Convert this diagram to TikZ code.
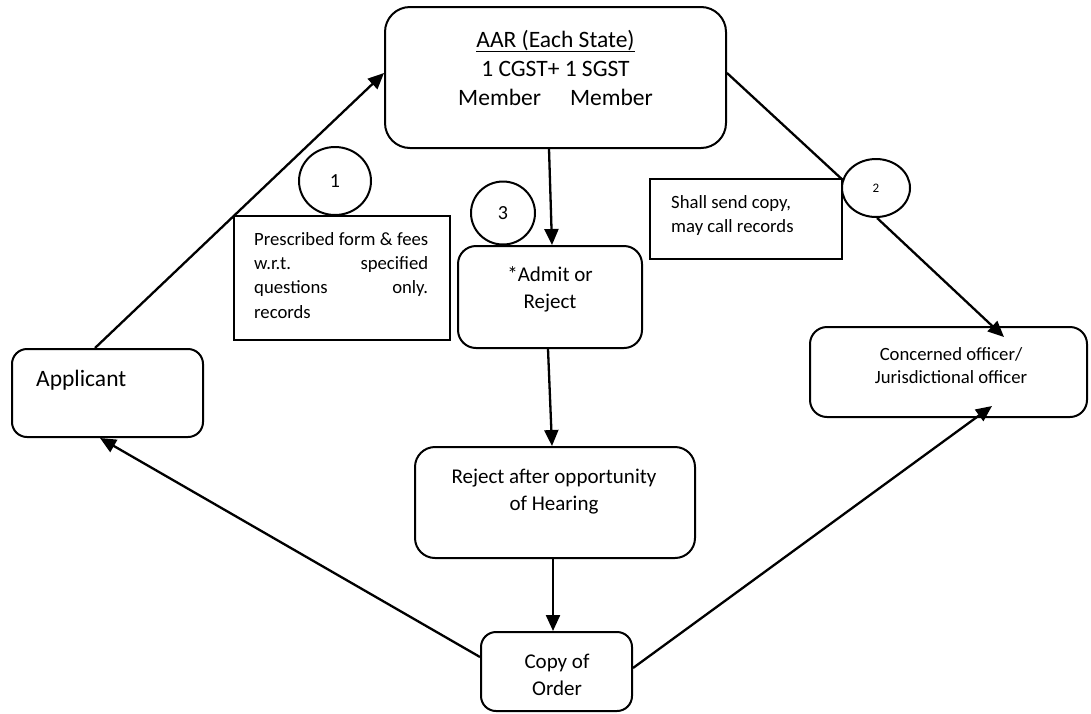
\documentclass[tikz,border=0pt]{standalone}
\usepackage{fontspec}
\setmainfont{Carlito}
\usetikzlibrary{arrows.meta,shapes.geometric}
\begin{document}
\begin{tikzpicture}[x=1pt,y=-1pt,
  box/.style={draw, line width=2pt, fill=white, inner sep=0pt},
  rbox/.style={box, rounded corners=#1},
  oval/.style={draw, line width=2pt, fill=white, ellipse, inner sep=0pt},
  conn/.style={line width=2.3pt, -{Triangle[length=16pt,width=14pt]}},
  plain/.style={line width=2.3pt},
  big/.style={font=\fontsize{23.5}{29}\selectfont, inner sep=0pt},
  mid/.style={font=\fontsize{21}{27}\selectfont, inner sep=0pt},
  sml/.style={font=\fontsize{18.7}{24}\selectfont, inner sep=0pt},
  lb/.style={anchor=base},
  lbw/.style={anchor=base west}]
\useasboundingbox (0,0) rectangle (1091,713);

% boxes
\node[rbox=25pt, minimum width=341pt, minimum height=141pt] (aar) at (555.5,77.5) {};
\node[rbox=18pt, minimum width=184pt, minimum height=102pt] (adm) at (550,297) {};
\node[rbox=20pt, minimum width=280pt, minimum height=111pt] (rej) at (555,502.5) {};
\node[rbox=15pt, minimum width=151pt, minimum height=79pt] (copy) at (556.5,671.5) {};
\node[rbox=15pt, minimum width=191pt, minimum height=88pt] (app) at (107.5,393) {};
\node[rbox=17pt, minimum width=277pt, minimum height=90pt] (con) at (948.5,372) {};
\node[box, minimum width=192pt, minimum height=80pt] (shall) at (746,219) {};
\node[box, minimum width=216pt, minimum height=124pt] (pres) at (342,278) {};

% circles
\node[oval, minimum width=72pt, minimum height=68pt, font=\fontsize{20}{24}\selectfont] (c1) at (335,181) {1};
\node[oval, minimum width=64pt, minimum height=63pt, font=\fontsize{20}{24}\selectfont] (c3) at (503,213) {3};
\node[oval, minimum width=68pt, minimum height=58pt, font=\fontsize{13}{16}\selectfont] (c2) at (876,188) {2};

% texts
\node[big, lb] (aart1) at (555.5,47) {\underline{AAR (Each State)}};
\node[big, lb] (aart2) at (555.5,76) {1 CGST+ 1 SGST};
\node[big, lb] (aart3) at (555.5,105) {Member\hspace{29pt}Member};

\node[mid, lb] (admt1) at (550,281) {*Admit or};
\node[mid, lb] (admt2) at (550,308) {Reject};

\node[mid, lb] (rejt1) at (554,483) {Reject after opportunity};
\node[mid, lb] (rejt2) at (554,510) {of Hearing};

\node[mid, lb] (copyt1) at (557,668) {Copy of};
\node[mid, lb] (copyt2) at (557,695) {Order};

\node[big, lbw] (appt) at (36,386) {Applicant};

\node[sml, lb] (cont1) at (951,360) {Concerned officer/};
\node[sml, lb] (cont2) at (951,383) {Jurisdictional officer};

\node[sml, lbw] (shallt1) at (671,208) {Shall send copy,};
\node[sml, lbw] (shallt2) at (671,232) {may call records};

\node[sml, lbw] (prest1) at (254,245) {\makebox[174pt][s]{Prescribed form \& fees}};
\node[sml, lbw] (prest2) at (254,269) {\makebox[174pt][l]{w.r.t.\hfill specified}};
\node[sml, lbw] (prest3) at (254,293) {\makebox[174pt][l]{questions\hfill only.}};
\node[sml, lbw] (prest4) at (254,318) {records};

% connectors
\draw[conn] (95,0 |- app.north) -- (aar.west |- 0,73);
\draw[plain] (aar.east |- 0,73) -- (c2.166);
\draw[conn] (c2.272) -- ([shift={(195,11)}]con.north west);
\draw[conn] (549,0 |- aar.south) -- (552,0 |- adm.north);
\draw[conn] (548,0 |- adm.south) -- (552,0 |- rej.north);
\draw[conn] (553,0 |- rej.south) -- (553,0 |- copy.north);
\draw[conn] (copy.west |- 0,657) -- (100,0 |- app.south);
\draw[conn] (copy.east |- 0,668) -- ([shift={(183,-12)}]con.south west);
\end{tikzpicture}
\end{document}
